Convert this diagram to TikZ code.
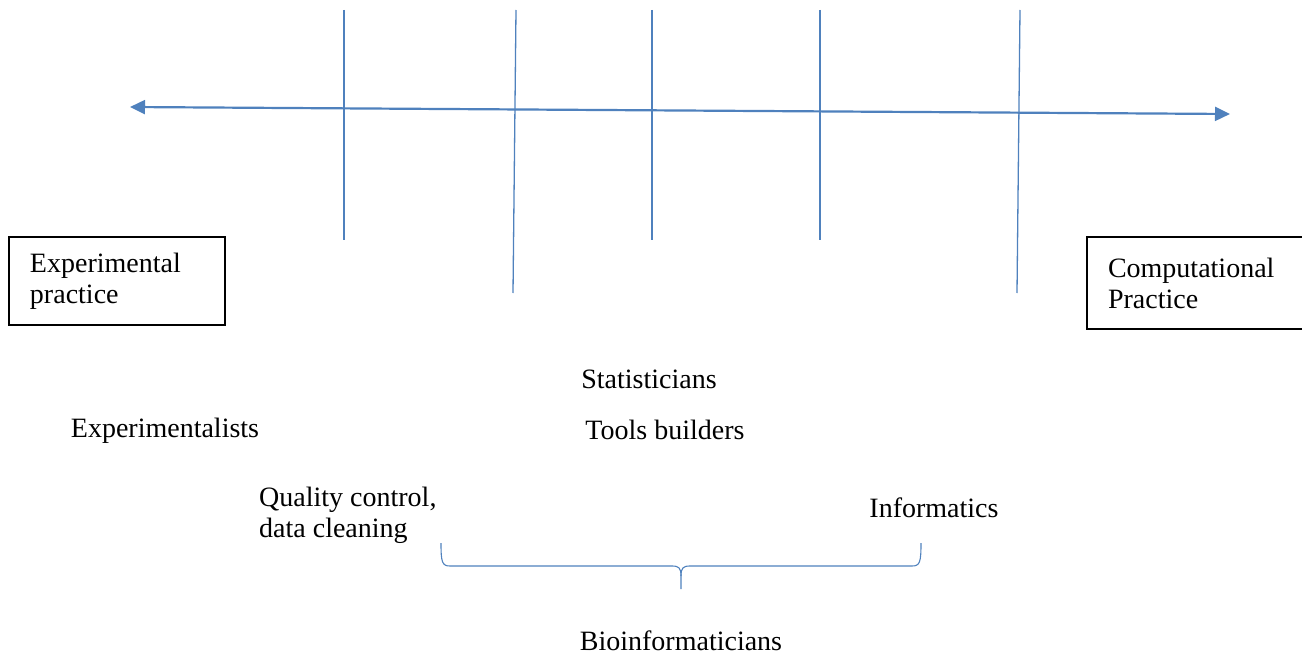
\documentclass[tikz,border=0pt]{standalone}
\usepackage{fontspec}
\setmainfont{Liberation Serif}
\usetikzlibrary{arrows.meta}
\usetikzlibrary{positioning}
\definecolor{lineblue}{RGB}{79,129,189}
\newcommand{\txtfont}{\fontsize{28}{31}\selectfont}

\begin{document}
\begin{tikzpicture}
  [x=1pt,y=-1pt,
   axis line/.style={draw=lineblue,line width=2.2pt,{Triangle[length=15pt,width=14pt]}-{Triangle[length=15pt,width=14pt]}},
   tick line/.style={draw=lineblue,line width=1.3pt},
   brace line/.style={draw=lineblue,line width=1.1pt},
   end box/.style={rectangle,draw,line width=1.3pt,text width=174pt,inner xsep=21pt,align=left,font=\txtfont},
   group text/.style={font=\txtfont,inner sep=0pt}]
  \useasboundingbox (0,0) rectangle (1302,658);

  % spectrum axis
  \coordinate (LeftEnd)  at (130,107);
  \coordinate (RightEnd) at (1230,114);
  \draw[axis line] (LeftEnd) -- (RightEnd);

  % dividers
  \foreach \name/\xt/\xb/\yb in {a/344/344/240, b/516/513/293, c/652/652/240, d/820/820/240, e/1020/1017/293} {
    \coordinate (Top\name) at (\xt,10);
    \coordinate (Bot\name) at (\xb,\yb);
    \draw[tick line] (Top\name) -- (Bot\name);
  }

  % the two ends
  \node[end box,minimum width=216pt,minimum height=88pt] (ExpBox)  at (117,281)   {Experimental\\practice};
  \node[end box,minimum width=214pt,minimum height=92pt] (CompBox) at (1195,283) {Computational\\Practice};

  % groups
  \node[group text] (Statisticians)     at (649,379) {Statisticians};
  \node[group text] (ToolsBuilders)     at (665,430) {Tools builders};
  \node[group text] (Experimentalists)  at (165,431) {Experimentalists};
  \node[group text,anchor=west,align=left] (QualityControl) at (259,515) {Quality control,\\data cleaning};
  \node[group text] (Informatics)       at (934,508) {Informatics};
  \node[group text] (Bioinformaticians) at (681,641) {Bioinformaticians};

  % brace over the bioinformatics range
  \coordinate (BraceLeft)  at (441,543);
  \coordinate (BraceRight) at (921,543);
  \coordinate (BraceTip)   at (681,589);
  \draw[brace line] (BraceLeft) .. controls (441,562) and (442,566) .. (450,566) -- (672,566)
    .. controls (679,566) and (681,568) .. (681,576) -- (BraceTip);
  \draw[brace line] (BraceRight) .. controls (921,562) and (920,566) .. (912,566) -- (690,566)
    .. controls (683,566) and (681,568) .. (681,576);
\end{tikzpicture}
\end{document}
